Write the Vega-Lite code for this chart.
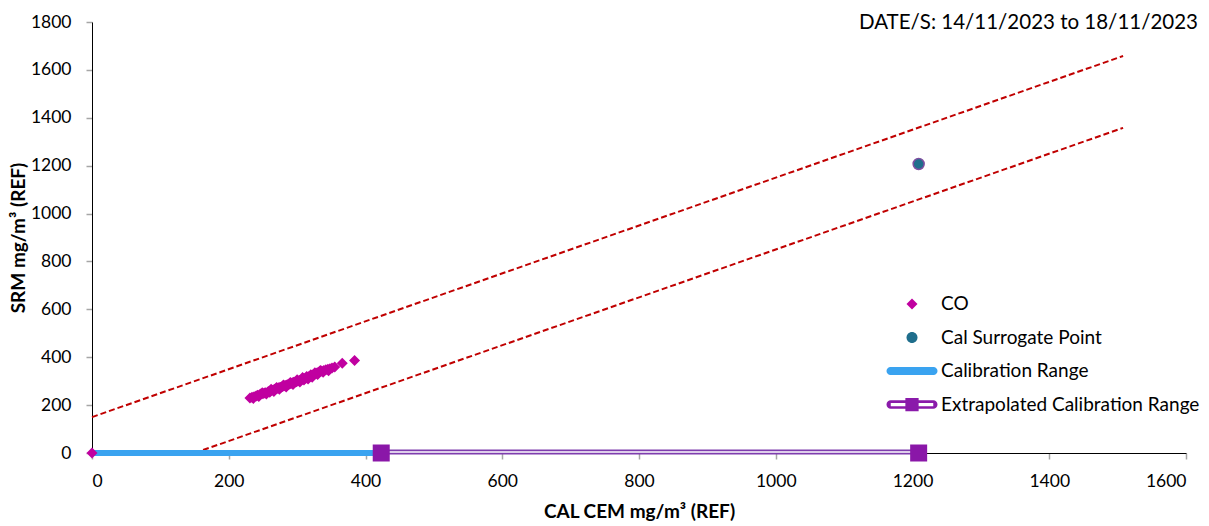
{
  "$schema": "https://vega.github.io/schema/vega-lite/v6.json",
  "width": 1094,
  "height": 431,
  "autosize": "none",
  "padding": {"left": 92, "top": 22, "right": 23, "bottom": 73},
  "background": "white",
  "config": {
    "font": "Lato",
    "view": {"stroke": null},
    "axis": {
      "grid": false,
      "domainColor": "#000000",
      "domainWidth": 1,
      "tickColor": "#A6A6A6",
      "tickSize": 6,
      "tickWidth": 1.5,
      "labelFont": "Lato",
      "labelFontSize": 17.5,
      "labelColor": "#000000",
      "titleFont": "Lato",
      "titleFontSize": 19,
      "titleFontWeight": "bold",
      "titleColor": "#000000",
      "format": "d"
    },
    "legend": {
      "labelFont": "Lato",
      "labelFontSize": 19,
      "labelColor": "#000000",
      "labelLimit": 0
    }
  },
  "title": {
    "text": "DATE/S: 14/11/2023 to 18/11/2023",
    "anchor": "end",
    "frame": "group",
    "fontSize": 20.5,
    "fontWeight": "normal",
    "font": "Lato",
    "color": "#000000",
    "offset": 0,
    "dx": 12,
    "dy": 20
  },
  "datasets": {
    "bounds": [
      {"line": "upper", "x": 0, "y": 150},
      {"line": "upper", "x": 1508, "y": 1658},
      {"line": "lower", "x": 150, "y": 0},
      {"line": "lower", "x": 1508, "y": 1358}
    ],
    "calib": [
      {"x": 0, "y": 0},
      {"x": 423, "y": 0}
    ],
    "extrap": [
      {"x": 423, "y": 4},
      {"x": 1209, "y": 4}
    ],
    "extrapEnds": [
      {"x": 423, "y": 0},
      {"x": 1209, "y": 0}
    ],
    "co": [
      {"series": "CO", "x": 0, "y": 0},
      {"series": "CO", "x": 231, "y": 230},
      {"series": "CO", "x": 234, "y": 233},
      {"series": "CO", "x": 236, "y": 228},
      {"series": "CO", "x": 237, "y": 235},
      {"series": "CO", "x": 240, "y": 238},
      {"series": "CO", "x": 242, "y": 241},
      {"series": "CO", "x": 244, "y": 236},
      {"series": "CO", "x": 245, "y": 243},
      {"series": "CO", "x": 247, "y": 246},
      {"series": "CO", "x": 249, "y": 252},
      {"series": "CO", "x": 250, "y": 247},
      {"series": "CO", "x": 252, "y": 251},
      {"series": "CO", "x": 254, "y": 252},
      {"series": "CO", "x": 255, "y": 246},
      {"series": "CO", "x": 257, "y": 255},
      {"series": "CO", "x": 259, "y": 258},
      {"series": "CO", "x": 260, "y": 254},
      {"series": "CO", "x": 261, "y": 260},
      {"series": "CO", "x": 262, "y": 266},
      {"series": "CO", "x": 263, "y": 262},
      {"series": "CO", "x": 265, "y": 263},
      {"series": "CO", "x": 266, "y": 257},
      {"series": "CO", "x": 267, "y": 266},
      {"series": "CO", "x": 269, "y": 268},
      {"series": "CO", "x": 270, "y": 274},
      {"series": "CO", "x": 271, "y": 270},
      {"series": "CO", "x": 273, "y": 272},
      {"series": "CO", "x": 274, "y": 266},
      {"series": "CO", "x": 275, "y": 275},
      {"series": "CO", "x": 277, "y": 276},
      {"series": "CO", "x": 279, "y": 278},
      {"series": "CO", "x": 280, "y": 284},
      {"series": "CO", "x": 281, "y": 281},
      {"series": "CO", "x": 283, "y": 282},
      {"series": "CO", "x": 284, "y": 276},
      {"series": "CO", "x": 285, "y": 284},
      {"series": "CO", "x": 287, "y": 287},
      {"series": "CO", "x": 289, "y": 288},
      {"series": "CO", "x": 290, "y": 294},
      {"series": "CO", "x": 291, "y": 290},
      {"series": "CO", "x": 293, "y": 293},
      {"series": "CO", "x": 294, "y": 286},
      {"series": "CO", "x": 295, "y": 295},
      {"series": "CO", "x": 297, "y": 296},
      {"series": "CO", "x": 299, "y": 298},
      {"series": "CO", "x": 300, "y": 306},
      {"series": "CO", "x": 301, "y": 301},
      {"series": "CO", "x": 303, "y": 303},
      {"series": "CO", "x": 304, "y": 296},
      {"series": "CO", "x": 305, "y": 304},
      {"series": "CO", "x": 307, "y": 307},
      {"series": "CO", "x": 308, "y": 315},
      {"series": "CO", "x": 309, "y": 310},
      {"series": "CO", "x": 310, "y": 305},
      {"series": "CO", "x": 311, "y": 310},
      {"series": "CO", "x": 313, "y": 313},
      {"series": "CO", "x": 314, "y": 320},
      {"series": "CO", "x": 315, "y": 316},
      {"series": "CO", "x": 316, "y": 309},
      {"series": "CO", "x": 317, "y": 318},
      {"series": "CO", "x": 319, "y": 321},
      {"series": "CO", "x": 320, "y": 327},
      {"series": "CO", "x": 321, "y": 323},
      {"series": "CO", "x": 322, "y": 316},
      {"series": "CO", "x": 323, "y": 326},
      {"series": "CO", "x": 325, "y": 329},
      {"series": "CO", "x": 326, "y": 335},
      {"series": "CO", "x": 327, "y": 331},
      {"series": "CO", "x": 329, "y": 334},
      {"series": "CO", "x": 330, "y": 328},
      {"series": "CO", "x": 331, "y": 337},
      {"series": "CO", "x": 333, "y": 339},
      {"series": "CO", "x": 334, "y": 345},
      {"series": "CO", "x": 336, "y": 342},
      {"series": "CO", "x": 338, "y": 337},
      {"series": "CO", "x": 339, "y": 345},
      {"series": "CO", "x": 342, "y": 348},
      {"series": "CO", "x": 345, "y": 350},
      {"series": "CO", "x": 346, "y": 343},
      {"series": "CO", "x": 348, "y": 352},
      {"series": "CO", "x": 351, "y": 355},
      {"series": "CO", "x": 355, "y": 359},
      {"series": "CO", "x": 366, "y": 375},
      {"series": "CO", "x": 384, "y": 386}
    ],
    "surrogate": [
      {"series": "Cal Surrogate Point", "x": 1209, "y": 1207}
    ]
  },
  "layer": [
    {
      "data": {"name": "bounds"},
      "mark": {"type": "line", "color": "#C00000", "strokeWidth": 2, "strokeDash": [6, 3]},
      "encoding": {
        "x": {"field": "x", "type": "quantitative", "scale": {"domain": [0, 1600], "nice": false},
          "axis": {"title": "CAL CEM mg/m³ (REF)", "values": [0, 200, 400, 600, 800, 1000, 1200, 1400, 1600], "labelPadding": 13, "titlePadding": 13}},
        "y": {"field": "y", "type": "quantitative", "scale": {"domain": [0, 1800], "nice": false},
          "axis": {"title": "SRM mg/m³ (REF)", "values": [0, 200, 400, 600, 800, 1000, 1200, 1400, 1600, 1800], "labelPadding": 15, "titlePadding": 2}},
        "detail": {"field": "line"}
      }
    },
    {
      "data": {"name": "calib"},
      "mark": {"type": "line", "color": "#3AA3F0", "strokeWidth": 6, "strokeCap": "round"},
      "encoding": {
        "x": {"field": "x", "type": "quantitative"},
        "y": {"field": "y", "type": "quantitative"}
      }
    },
    {
      "data": {"name": "extrap"},
      "mark": {"type": "line", "color": "#7E3DAE", "strokeWidth": 5},
      "encoding": {
        "x": {"field": "x", "type": "quantitative"},
        "y": {"field": "y", "type": "quantitative"}
      }
    },
    {
      "data": {"name": "extrap"},
      "mark": {"type": "line", "color": "#FFFFFF", "strokeWidth": 1.5},
      "encoding": {
        "x": {"field": "x", "type": "quantitative"},
        "y": {"field": "y", "type": "quantitative"}
      }
    },
    {
      "data": {"name": "extrapEnds"},
      "mark": {"type": "point", "shape": "square", "filled": true, "size": 289, "color": "#8A17A8", "opacity": 1},
      "encoding": {
        "x": {"field": "x", "type": "quantitative"},
        "y": {"field": "y", "type": "quantitative"}
      }
    },
    {
      "data": {"name": "co"},
      "mark": {"type": "point", "filled": true, "size": 625, "opacity": 1},
      "encoding": {
        "x": {"field": "x", "type": "quantitative"},
        "y": {"field": "y", "type": "quantitative"},
        "color": {
          "field": "series", "type": "nominal",
          "scale": {
            "domain": ["CO", "Cal Surrogate Point", "Calibration Range", "Extrapolated Calibration Range"],
            "range": ["#C000A0", "#1F6E8C", "#3AA3F0", "#8A1AAA"]
          },
          "legend": {"title": null, "orient": "none", "legendX": 807.5, "legendY": 269.5, "symbolSize": 625, "rowPadding": 10.5, "labelOffset": 16.5, "padding": 0, "symbolStrokeWidth": 0, "symbolOpacity": 1, "labelLimit": 0}
        },
        "shape": {
          "field": "series", "type": "nominal",
          "scale": {
            "domain": ["CO", "Cal Surrogate Point", "Calibration Range", "Extrapolated Calibration Range"],
            "range": [
              "M0,-0.44L0.44,0L0,0.44L-0.44,0Z",
              "M-0.44,0A0.44,0.44,0,1,1,0.44,0A0.44,0.44,0,1,1,-0.44,0Z",
              "M-1.72,-0.32H1.72A0.32,0.32,0,0,1,1.72,0.32H-1.72A0.32,0.32,0,0,1,-1.72,-0.32Z",
              "M-1.7,-0.34H1.7A0.34,0.34,0,0,1,1.7,0.34H-1.7A0.34,0.34,0,0,1,-1.7,-0.34Z M-1.7,-0.13V0.13H1.7V-0.13Z M-0.53,-0.53H0.53V0.53H-0.53Z"
            ]
          },
          "legend": {"title": null, "orient": "none", "legendX": 807.5, "legendY": 269.5, "symbolSize": 625, "rowPadding": 10.5, "labelOffset": 16.5, "padding": 0, "symbolStrokeWidth": 0, "symbolOpacity": 1, "labelLimit": 0}
        }
      }
    },
    {
      "data": {"name": "surrogate"},
      "mark": {"type": "point", "filled": true, "size": 625, "opacity": 1, "stroke": "#7E4FA0", "strokeWidth": 1.5},
      "encoding": {
        "x": {"field": "x", "type": "quantitative"},
        "y": {"field": "y", "type": "quantitative"},
        "color": {"field": "series", "type": "nominal"},
        "shape": {"field": "series", "type": "nominal"}
      }
    }
  ]
}
